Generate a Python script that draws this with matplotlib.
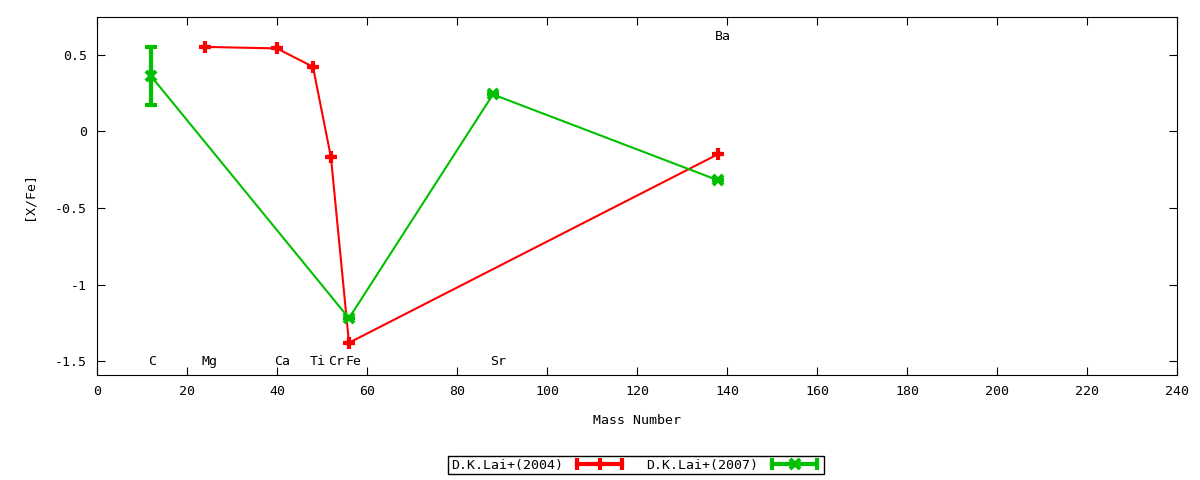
import matplotlib
matplotlib.use('Agg')
import matplotlib.pyplot as plt
from matplotlib.lines import Line2D
from matplotlib.legend_handler import HandlerLine2D, HandlerTuple

# D.K.Lai+(2004)
lai04_mass = [24, 40, 48, 52, 56, 138]
lai04_xfe = [0.55, 0.54, 0.42, -0.17, -1.38, -0.15]
lai04_err = [0, 0, 0, 0, 0, 0]

# D.K.Lai+(2007)
lai07_mass = [12, 56, 88, 138]
lai07_xfe = [0.36, -1.22, 0.24, -0.32]
lai07_err = [0.19, 0, 0, 0]

# element labels
elem_names = ['C', 'Mg', 'Ca', 'Ti', 'Cr', 'Fe', 'Sr', 'Ba']
elem_mass = [12, 24, 40, 48, 52, 56, 88, 138]
elem_y = [-1.5, -1.5, -1.5, -1.5, -1.5, -1.5, -1.5, 0.62]

red = '#ff0000'
green = '#00c000'
plt.rcParams['font.family'] = ['DejaVu Sans Mono']
plt.rcParams['font.size'] = 9.5

fig = plt.figure(figsize=(12, 4.8), dpi=100)
ax = fig.add_axes([0.0808, 0.2188, 0.9, 0.7458])

ax.errorbar(lai04_mass, lai04_xfe, yerr=lai04_err, color=red, lw=1.5,
            marker='+', ms=9, mew=3, elinewidth=3, capsize=3, capthick=3)
ax.errorbar(lai07_mass, lai07_xfe, yerr=lai07_err, color=green, lw=1.5,
            marker='x', ms=7, mew=3, elinewidth=3, capsize=4, capthick=3)

for name, m, y in zip(elem_names, elem_mass, elem_y):
    ax.text(m - 0.7, y, name, ha='left', va='center')

ax.set_xlim(0, 240)
ax.set_ylim(-1.59, 0.745)
ax.set_xticks(range(0, 241, 20))
ax.set_yticks([0.5, 0, -0.5, -1, -1.5])
ax.set_yticklabels(['0.5', '0', '-0.5', '-1', '-1.5'])
ax.tick_params(direction='in', length=6, top=True, right=True, pad=7)
ax.set_xlabel('Mass Number', labelpad=12)
ax.set_ylabel('[X/Fe]', labelpad=14)

# legend handles: horizontal errorbar-like symbol
h04 = (Line2D([], [], color=red, lw=3, marker='|', ms=8, mew=3),
       Line2D([], [], color=red, lw=0, marker='+', ms=9, mew=3))
h07 = (Line2D([], [], color=green, lw=3, marker='|', ms=8, mew=3),
       Line2D([], [], color=green, lw=0, marker='x', ms=7, mew=3))
hmap = {h04[0]: HandlerLine2D(numpoints=2), h07[0]: HandlerLine2D(numpoints=2),
        h04[1]: HandlerLine2D(numpoints=1), h07[1]: HandlerLine2D(numpoints=1),
        tuple: HandlerTuple(ndivide=1)}
leg = fig.legend([h04, h07], ['D.K.Lai+(2004)', 'D.K.Lai+(2007)'],
                 handler_map=hmap, ncol=2, loc='center', bbox_to_anchor=(0.53, 0.031),
                 markerfirst=False, fancybox=False, framealpha=1, edgecolor='black',
                 handlelength=4, borderpad=0.2, columnspacing=1.5, handletextpad=0.8,
                 borderaxespad=0)
leg.get_frame().set_linewidth(1)

fig.savefig('out.png', dpi=100)
